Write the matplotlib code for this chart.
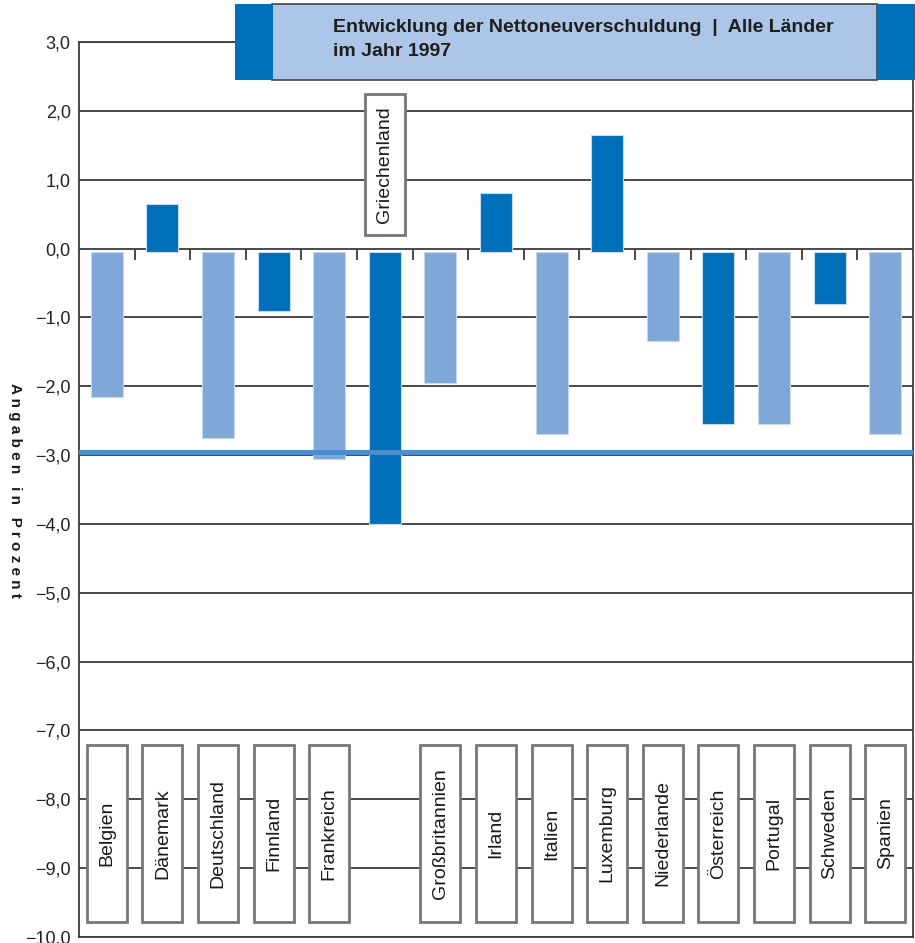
import matplotlib
matplotlib.use("Agg")
import matplotlib.pyplot as plt
from matplotlib.patches import Rectangle
from matplotlib import font_manager
import numpy as np

# Daten: Nettoneuverschuldung 1997 in Prozent
laender = ['Belgien', 'Dänemark', 'Deutschland', 'Finnland', 'Frankreich',
           'Griechenland', 'Großbritannien', 'Irland', 'Italien', 'Luxemburg',
           'Niederlande', 'Österreich', 'Portugal', 'Schweden', 'Spanien']
werte = [-2.15, 0.65, -2.75, -0.9, -3.05, -4.0, -1.95, 0.8, -2.7, 1.65,
         -1.35, -2.55, -2.55, -0.8, -2.7]
dunkel = ['Dänemark', 'Finnland', 'Griechenland', 'Irland', 'Luxemburg',
          'Österreich', 'Schweden']
grenzwert = -3.0
y_ticks = list(range(-10, 4))

# Schrift
namen = {f.name for f in font_manager.fontManager.ttflist}
schmal = 'Liberation Sans Narrow' if 'Liberation Sans Narrow' in namen else 'Liberation Sans'
plt.rcParams['font.family'] = [schmal, 'DejaVu Sans']

col_hell = '#7fa8d8'
col_dunkel = '#0070bb'
col_titel = '#adc6e8'
col_grid = '#3c3c3c'
col_box = '#777777'

W, H = 915, 943
fig = plt.figure(figsize=(W / 100, H / 100), dpi=100)
ax = fig.add_axes([79 / W, 6 / H, (913 - 79) / W, (937 - 42) / H])
ax.set_xlim(0, len(laender))
ax.set_ylim(-10, 3)

x = np.arange(len(laender)) + 0.5
farben = [col_dunkel if l in dunkel else col_hell for l in laender]
basis = -0.05
ax.bar(x, np.array(werte) - basis, bottom=basis, width=0.575, color=farben,
       edgecolor='#c5daf1', linewidth=0.8, zorder=3)

# Gitterlinien
for t in y_ticks:
    ax.axhline(t, color=col_grid, lw=1.3, zorder=1)
# Grenzwert -3 %
ax.axhline(grenzwert + 0.05, color='#4a8ccc', lw=3.6, zorder=4)

# kleine Teilstriche unter der Nulllinie
ax.vlines(np.arange(1, len(laender)), -0.16, 0, color=col_grid, lw=1.3, zorder=2)

ax.set_xticks([])
ax.set_yticks(y_ticks)
ax.set_yticklabels([f'{t},0'.replace('-', '\u2212') for t in y_ticks],
                   fontsize=13, color='#222222')
ax.tick_params(axis='y', length=0, pad=6)
for s in ax.spines.values():
    s.set_color(col_grid)
    s.set_linewidth(1.3)

# Länderbeschriftungen in Kästchen
for xi, name in zip(x, laender):
    if name == 'Griechenland':
        y0, y1 = 0.19, 2.24
    else:
        y0, y1 = -9.78, -7.21
    ax.add_patch(Rectangle((xi - 0.36, y0), 0.72, y1 - y0, facecolor='white',
                           edgecolor=col_box, lw=2, zorder=5))
    ax.text(xi, (y0 + y1) / 2, name, rotation=90, ha='center', va='center',
            fontsize=14, color='#1a1a1a', zorder=6)

# Achsenbeschriftung
fig.text(15 / W, 1 - 490 / H, 'A n g a b e n   i n   P r o z e n t',
         rotation=270, ha='center', va='center', fontsize=11,
         fontweight='bold', color='#1a1a1a', family=['Liberation Sans', 'DejaVu Sans'])

# Titelbalken
def fx(px):
    return px / W

def fy(py):
    return 1 - py / H

fig.add_artist(Rectangle((fx(272), fy(80)), fx(877) - fx(272), fy(4) - fy(80),
                         transform=fig.transFigure, facecolor=col_titel,
                         edgecolor='#444444', lw=1.2, zorder=10))
fig.add_artist(Rectangle((fx(235), fy(80)), fx(273) - fx(235), fy(4) - fy(80),
                         transform=fig.transFigure, facecolor=col_dunkel,
                         edgecolor='none', zorder=11))
fig.add_artist(Rectangle((fx(877), fy(80)), fx(915) - fx(877), fy(4) - fy(80),
                         transform=fig.transFigure, facecolor=col_dunkel,
                         edgecolor='none', zorder=11))
fig.text(fx(333), fy(27), 'Entwicklung der Nettoneuverschuldung  |  Alle Länder',
         ha='left', va='center', fontsize=14, fontweight='bold',
         color='#1e1e1e', zorder=12)
fig.text(fx(333), fy(52), 'im Jahr 1997', ha='left', va='center', fontsize=14,
         fontweight='bold', color='#1e1e1e', zorder=12)

fig.savefig('out.png', dpi=100, facecolor='white')
